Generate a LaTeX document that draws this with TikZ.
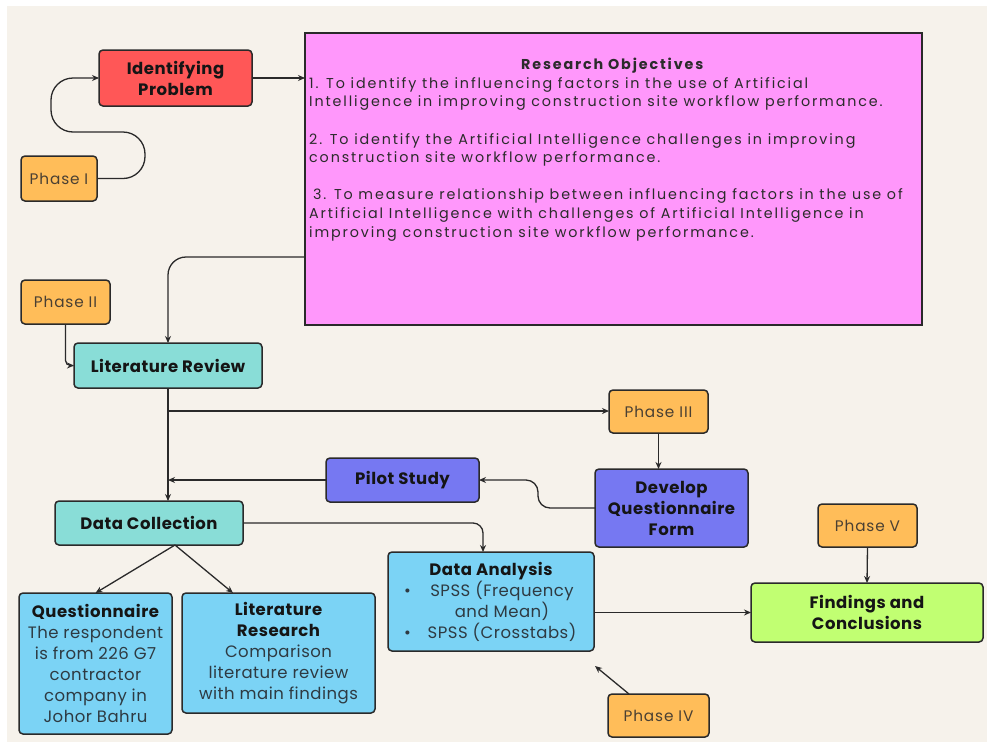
\documentclass[tikz,border=0pt]{standalone}
\usepackage{fontspec}
\setmainfont{Poppins}
\newfontfamily\rofont[LetterSpace=13]{Poppins}
\newfontfamily\boxfont[LetterSpace=3]{Poppins}
\newfontfamily\phfont[LetterSpace=5.5]{Poppins}
\usetikzlibrary{arrows.meta}
\definecolor{bgc}{HTML}{F6F2EB}
\definecolor{edge}{HTML}{2A2A2A}
\definecolor{redc}{HTML}{FF5757}
\definecolor{orangec}{HTML}{FFBD59}
\definecolor{magc}{HTML}{FF97FB}
\definecolor{tealc}{HTML}{89DDD7}
\definecolor{perc}{HTML}{7678F2}
\definecolor{bluec}{HTML}{7BD3F5}
\definecolor{greenc}{HTML}{C1FF72}
\definecolor{phasetxt}{HTML}{4A4033}
\definecolor{bodytxt}{HTML}{2E3A42}
\definecolor{rotxt}{HTML}{2B2B2B}
\definecolor{titletxt}{HTML}{151515}
\tikzset{
  box/.style={draw=edge, line width=1.5pt, rounded corners=4pt, anchor=north west,
    inner sep=0pt, outer sep=0pt, align=center, text=titletxt,
    font=\boxfont\fontsize{16.5}{21}\selectfont},
  phasebox/.style={box, fill=orangec, text=phasetxt, font=\phfont\fontsize{15.3}{18}\selectfont},
  arr/.style={draw=edge, line width=1.3pt, -{Stealth[length=7pt,width=6pt]}}
}
\begin{document}
\begin{tikzpicture}[x=1pt,y=-1pt]
\useasboundingbox (0,0) rectangle (987,742);
\fill[white] (0,0) rectangle (987,742);
\fill[bgc] (7,6) rectangle (987,742);

% nodes
\node[box, fill=redc, minimum width=153, minimum height=56] (IdProb) at (99,50)
  {\bfseries Identifying\\\bfseries Problem};
\node[phasebox, minimum width=76, minimum height=45] (Phase1) at (21,156) {Phase I};
\node[draw=edge, line width=1.5pt, fill=magc, anchor=north west, inner sep=0pt, outer sep=0pt,
  minimum width=617, minimum height=292] (ResObj) at (305,33) {};
\node[anchor=north west, inner sep=0pt, align=left, text=rotxt,
  font=\rofont\fontsize{14.3}{18.6}\selectfont] (roText) at (309,58)
  {\makebox[606pt][c]{\bfseries Research Objectives}\\
   1. To identify the influencing factors in the use of Artificial\\
   Intelligence in improving construction site workflow performance.\\[18.6pt]
   2. To identify the Artificial Intelligence challenges in improving\\
   construction site workflow performance.\\[18.6pt]
   \hspace*{4pt}3. To measure relationship between influencing factors in the use of\\
   Artificial Intelligence with challenges of Artificial Intelligence in\\
   improving construction site workflow performance.};
\node[phasebox, minimum width=89, minimum height=44] (Phase2) at (21,280) {Phase II};
\node[box, fill=tealc, minimum width=188, minimum height=45] (LitRev) at (74,343)
  {\bfseries Literature Review};
\node[phasebox, minimum width=99, minimum height=43] (Phase3) at (609,390) {Phase III};
\node[box, fill=perc, minimum width=153, minimum height=78] (DQF) at (595,469)
  {\bfseries Develop\\\bfseries Questionnaire\\\bfseries Form};
\node[box, fill=perc, minimum width=153, minimum height=44] (Pilot) at (326,458)
  {\bfseries Pilot Study};
\node[box, fill=tealc, minimum width=188, minimum height=44] (DataColl) at (55,501)
  {\bfseries Data Collection};
\node[box, fill=bluec, minimum width=206, minimum height=99] (DataAn) at (388,552)
  {\bfseries Data Analysis\\
   \color{bodytxt}\makebox[22pt][l]{\textbullet}\makebox[152pt][c]{SPSS (Frequency}\\
   \color{bodytxt}\makebox[22pt][l]{}\makebox[152pt][c]{and Mean)}\\
   \color{bodytxt}\makebox[22pt][l]{\textbullet}\makebox[152pt][c]{SPSS (Crosstabs)}};
\node[box, fill=bluec, minimum width=153, minimum height=141] (Quest) at (19,593)
  {\bfseries Questionnaire\\
   \color{bodytxt}The respondent\\
   \color{bodytxt}is from 226 G7\\
   \color{bodytxt}contractor\\
   \color{bodytxt}company in\\
   \color{bodytxt}Johor Bahru};
\node[box, fill=bluec, minimum width=193, minimum height=120] (LitRes) at (182,593)
  {\bfseries Literature\\
   \bfseries Research\\
   \color{bodytxt}Comparison\\
   \color{bodytxt}literature review\\
   \color{bodytxt}with main findings};
\node[phasebox, minimum width=99, minimum height=43] (Phase5) at (818,504) {Phase V};
\node[box, fill=greenc, minimum width=232, minimum height=59] (Findings) at (751,583)
  {\bfseries Findings and\\\bfseries Conclusions};
\node[phasebox, minimum width=101, minimum height=43] (Phase4) at (608,694) {Phase IV};

% helper coordinates
\coordinate (roOut) at (305,257);
\coordinate (branch) at (168,411);
\coordinate (dqfA) at (538,508);
\coordinate (dqfB) at (538,480);
\coordinate (daIn) at (483,552);
\coordinate (dcOut) at (175,545);
\coordinate (lrIn) at (233,593);
\coordinate (p4Out) at (629,694);
\coordinate (p4Tip) at (595,666);

% connectors
\draw[arr, rounded corners=22] (Phase1.east) -- (145,178.5) -- (145,132) -- (51,132) -- (51,78) -- (IdProb.west);
\draw[arr] (IdProb.east) -- (IdProb.east -| ResObj.west);
\draw[arr, rounded corners=18] (roOut) -| (LitRev.north);
\draw[arr, rounded corners=5] (Phase2.south) |- (LitRev.west);
\draw[arr] (LitRev.south) -- (LitRev.south |- DataColl.north);
\draw[arr] (branch) -- (branch -| Phase3.west);
\draw[arr] (Phase3.south) -- (Phase3.south |- DQF.north);
\draw[arr, rounded corners=12] (DQF.west) -- (dqfA) -- (dqfB) -- (Pilot.east);
\draw[arr] (Pilot.west) -- (Pilot.west -| LitRev.south);
\draw[arr, rounded corners=10] (DataColl.east) -| (daIn);
\draw[arr] (dcOut) -- (Quest.north);
\draw[arr] (dcOut) -- (lrIn);
\draw[arr] (Findings.west -| DataAn.east) -- (Findings.west);
\draw[arr] (Phase5.south) -- (Findings.north);
\draw[arr] (p4Out) -- (p4Tip);
\end{tikzpicture}
\end{document}
